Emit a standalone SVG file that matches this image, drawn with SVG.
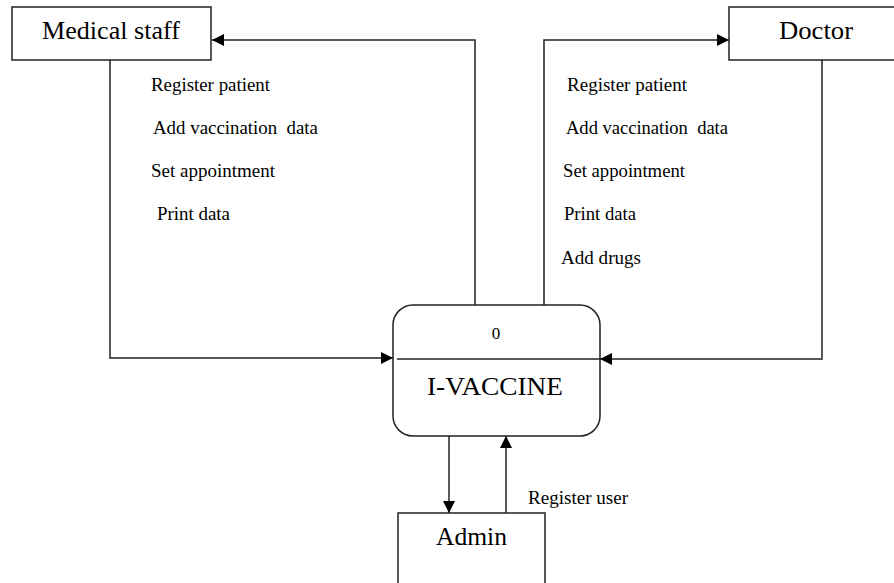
<svg xmlns="http://www.w3.org/2000/svg" width="894" height="583" viewBox="0 0 894 583">
<style>
  .box { fill: #fff; stroke: #222; stroke-width: 1.5; }
  .ln { fill: none; stroke: #222; stroke-width: 1.5; }
  .name { font-family: "Liberation Serif", "Times New Roman", serif; font-size: 25px; fill: #000; }
  .lbl { font-family: "Liberation Serif", "Times New Roman", serif; font-size: 18px; fill: #000; }
</style>
<defs>
  <marker id="arr" viewBox="0 0 10 10" refX="10" refY="5" markerWidth="12" markerHeight="12" markerUnits="userSpaceOnUse" orient="auto">
    <path d="M0,0 L10,5 L0,10 z" fill="#000"/>
  </marker>
</defs>
<rect width="894" height="583" fill="#fff"/>

<g id="connectors">
  <!-- I-VACCINE -> Medical staff -->
  <polyline class="ln" points="475,305 475,40 212,40" marker-end="url(#arr)"/>
  <!-- Medical staff -> I-VACCINE -->
  <polyline class="ln" points="110,60 110,358 393,358" marker-end="url(#arr)"/>
  <!-- I-VACCINE -> Doctor -->
  <polyline class="ln" points="544,305 544,40 729,40" marker-end="url(#arr)"/>
  <!-- Doctor -> I-VACCINE -->
  <polyline class="ln" points="822,60 822,359 600,359" marker-end="url(#arr)"/>
  <!-- I-VACCINE -> Admin -->
  <line class="ln" x1="449" y1="436" x2="449" y2="513" marker-end="url(#arr)"/>
  <!-- Admin -> I-VACCINE -->
  <line class="ln" x1="506" y1="513" x2="506" y2="436" marker-end="url(#arr)"/>

  <g class="lbl">
    <text x="151" y="91" textLength="119" lengthAdjust="spacingAndGlyphs">Register patient</text>
    <text x="153" y="134" textLength="165" lengthAdjust="spacingAndGlyphs" xml:space="preserve">Add vaccination  data</text>
    <text x="151" y="177" textLength="124" lengthAdjust="spacingAndGlyphs">Set appointment</text>
    <text x="157" y="220" textLength="73" lengthAdjust="spacingAndGlyphs">Print data</text>

    <text x="567" y="91" textLength="120" lengthAdjust="spacingAndGlyphs">Register patient</text>
    <text x="566" y="134" textLength="162" lengthAdjust="spacingAndGlyphs" xml:space="preserve">Add vaccination  data</text>
    <text x="563" y="177" textLength="122" lengthAdjust="spacingAndGlyphs">Set appointment</text>
    <text x="564" y="220" textLength="72" lengthAdjust="spacingAndGlyphs">Print data</text>
    <text x="561" y="264" textLength="80" lengthAdjust="spacingAndGlyphs">Add drugs</text>

    <text x="528" y="504" textLength="100" lengthAdjust="spacingAndGlyphs">Register user</text>
  </g>
</g>

<g id="medical-staff">
  <rect class="box" x="12" y="7" width="199" height="53"/>
  <text class="name" x="42" y="39" textLength="138" lengthAdjust="spacingAndGlyphs">Medical staff</text>
</g>

<g id="doctor">
  <rect class="box" x="729" y="7" width="170" height="53"/>
  <text class="name" x="779" y="39" textLength="74" lengthAdjust="spacingAndGlyphs">Doctor</text>
</g>

<g id="i-vaccine">
  <rect class="box" x="393" y="305" width="207" height="131" rx="20" ry="20"/>
  <line class="ln" x1="397" y1="359" x2="600" y2="359"/>
  <text x="496" y="339" font-family="'Liberation Serif', serif" font-size="17" text-anchor="middle">0</text>
  <text class="name" x="427" y="395" textLength="136" lengthAdjust="spacingAndGlyphs">I-VACCINE</text>
</g>

<g id="admin">
  <rect class="box" x="398" y="513" width="147" height="80"/>
  <text class="name" x="436" y="545" textLength="71" lengthAdjust="spacingAndGlyphs">Admin</text>
</g>
</svg>
